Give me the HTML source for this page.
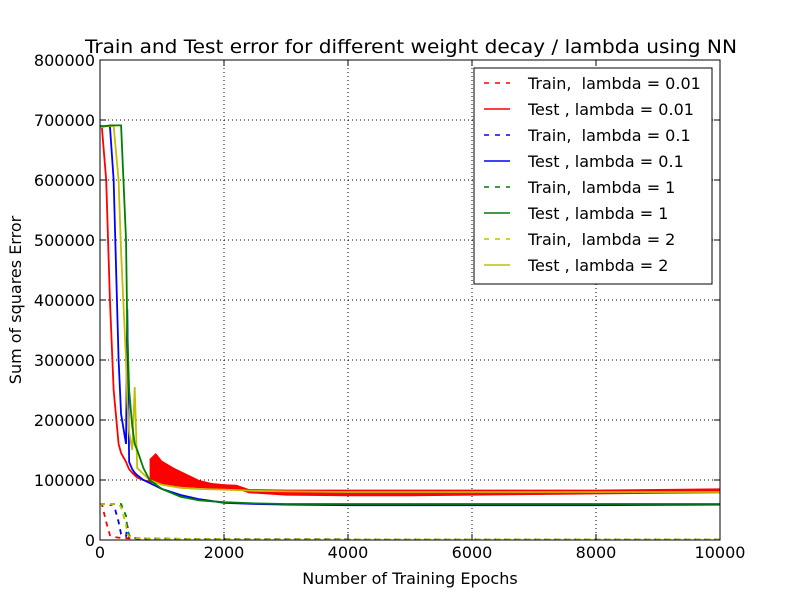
<!DOCTYPE html>
<html><head><meta charset="utf-8"><style>
body{margin:0;background:#fff;}
svg{display:block;font-family:"DejaVu Sans","Liberation Sans",sans-serif;}
#legend text{white-space:pre;}
</style></head><body>
<svg id="chart" width="800" height="600" viewBox="0 0 800 600">
<rect width="800" height="600" fill="#fff"/>
<text x="85" y="53" font-size="19" textLength="652" lengthAdjust="spacingAndGlyphs">Train and Test error for different weight decay / lambda using NN</text>
<g id="grid"></g>
<g id="series"></g>
<rect x="100" y="60" width="620" height="480" fill="none" stroke="#000" stroke-width="1"/>
<g id="ticks" font-size="16"></g>
<text x="410" y="584" font-size="16" text-anchor="middle">Number of Training Epochs</text>
<text transform="translate(21,300) rotate(-90)" font-size="16" text-anchor="middle">Sum of squares Error</text>
<g id="legend"></g>
</svg>
<script>
const xTicks=[0,2000,4000,6000,8000,10000];
const yTicks=[0,100000,200000,300000,400000,500000,600000,700000,800000];
const seriesNames=["Train,  lambda = 0.01","Test , lambda = 0.01","Train,  lambda = 0.1","Test , lambda = 0.1","Train,  lambda = 1","Test , lambda = 1","Train,  lambda = 2","Test , lambda = 2"];
const seriesColors=["#ff0000","#ff0000","#0000ff","#0000ff","#007f00","#007f00","#bfbf00","#bfbf00"];
const epochs=[0,30,100,160,220,300,340,420,440,470,520,560,600,700,800,1000,1300,1600,2000,2500,3000,4000,6000,8000,10000];
const testR=[688000,688000,600000,400000,250000,160000,145000,130000,125000,118000,112000,108000,104000,100000,97000,94000,90000,88000,86000,82000,80000,79000,79000,80000,82000];
const testB=[688000,688000,690000,690000,600000,300000,210000,160000,385000,130000,118000,112000,108000,100000,95000,85000,75000,68000,62000,60000,59000,58000,58000,58000,59000];
const testG=[690000,690000,690000,691000,691000,691000,691000,500000,350000,250000,190000,160000,150000,120000,100000,85000,72000,66000,63000,61000,60000,60000,60000,60000,60000];
const testY=[688000,688000,690000,690000,690000,600000,480000,300000,230000,180000,150000,255000,120000,110000,100000,92000,87000,85000,84000,82000,81000,80000,80000,80000,80000];
const trainR=[60000,60000,30000,8000,5000,4000,3500,3000,3000,2800,2600,2500,2400,2200,2000,1800,1600,1500,1400,1300,1200,1100,1000,1000,1000];
const trainB=[60000,60000,60000,58000,60000,30000,10000,6000,25000,4000,3500,3200,3000,2800,2500,2200,1900,1700,1500,1300,1200,1100,1000,1000,1000];
const trainG=[60000,60000,60000,60000,60000,60000,60000,40000,20000,8000,4000,3500,3000,2800,2500,2200,1900,1700,1500,1300,1200,1100,1000,1000,1000];
const trainY=[60000,60000,60000,60000,60000,60000,55000,25000,10000,6000,4000,3500,3000,2800,2500,2200,1900,1700,1500,1300,1200,1100,1000,1000,1000];
const noiseEpochs=[800,900,1000,1200,1400,1600,1800,2000,2200,2400,3000,4000,5000,6000,7000,8000,9000,10000];
const noiseHigh=[135000,145000,132000,120000,110000,100000,95000,93000,92000,85000,84000,84000,84000,84000,84000,84000,85000,86000];
const noiseLow=[100000,96000,94000,92000,90000,88000,87000,86000,85000,78000,74000,73000,73000,74000,75000,76000,77000,78000];

const sx=v=>100+v/10000*620, sy=v=>540-v/800000*480;
const NS="http://www.w3.org/2000/svg";
function mk(p,t,a){const e=document.createElementNS(NS,t);for(const k in a)e.setAttribute(k,a[k]);p.appendChild(e);return e;}
const grid=document.getElementById('grid'),ticks=document.getElementById('ticks'),ser=document.getElementById('series'),leg=document.getElementById('legend');
xTicks.forEach(t=>{const x=sx(t);
 const g=mk(grid,'line',{x1:x,x2:x,y1:60,y2:540,stroke:'#000','stroke-dasharray':'1,3','stroke-width':1});
 
 
 mk(ticks,'line',{x1:x,x2:x,y1:540,y2:534,stroke:'#000'});
 mk(ticks,'line',{x1:x,x2:x,y1:60,y2:66,stroke:'#000'});
 const l=mk(ticks,'text',{x:x,y:558,'text-anchor':'middle'});l.textContent=t;
 
 });
yTicks.forEach(t=>{const y=sy(t);
 const g=mk(grid,'line',{x1:100,x2:720,y1:y,y2:y,stroke:'#000','stroke-dasharray':'1,3','stroke-width':1});
 
 
 mk(ticks,'line',{x1:100,x2:106,y1:y,y2:y,stroke:'#000'});
 mk(ticks,'line',{x1:714,x2:720,y1:y,y2:y,stroke:'#000'});
 const l=mk(ticks,'text',{x:95,y:y+6,'text-anchor':'end'});l.textContent=t;
 
 });
let pts=noiseEpochs.map((e,i)=>sx(e)+','+sy(noiseHigh[i]));
for(let i=noiseEpochs.length-1;i>=0;i--)pts.push(sx(noiseEpochs[i])+','+sy(noiseLow[i]));
const band=mk(ser,'polygon',{points:pts.join(' '),fill:'#ff0000'});


const data=[trainR,testR,trainB,testB,trainG,testG,trainY,testY];
const order=[1,3,7,5,0,2,4,6];
order.forEach(i=>{const p=mk(ser,'polyline',{points:epochs.map((e,j)=>sx(e)+','+sy(data[i][j])).join(' '),fill:'none',stroke:seriesColors[i],'stroke-width':1.8,'stroke-dasharray':i%2==0?'5,5':'none'});
 
 });
const lb=mk(leg,'rect',{x:474,y:68,width:238,height:216,fill:'#fff',stroke:'#000'});


seriesNames.forEach((n,i)=>{const y=83+i*26;
 mk(leg,'line',{x1:484,x2:510,y1:y,y2:y,stroke:seriesColors[i],'stroke-width':1.5,'stroke-dasharray':i%2==0?'5,6':'none'});
 const t=mk(leg,'text',{x:528,y:y+6,'font-size':16});t.textContent=n;
 t.setAttribute('xml:space','preserve');
 
 });
</script>
</body></html>
